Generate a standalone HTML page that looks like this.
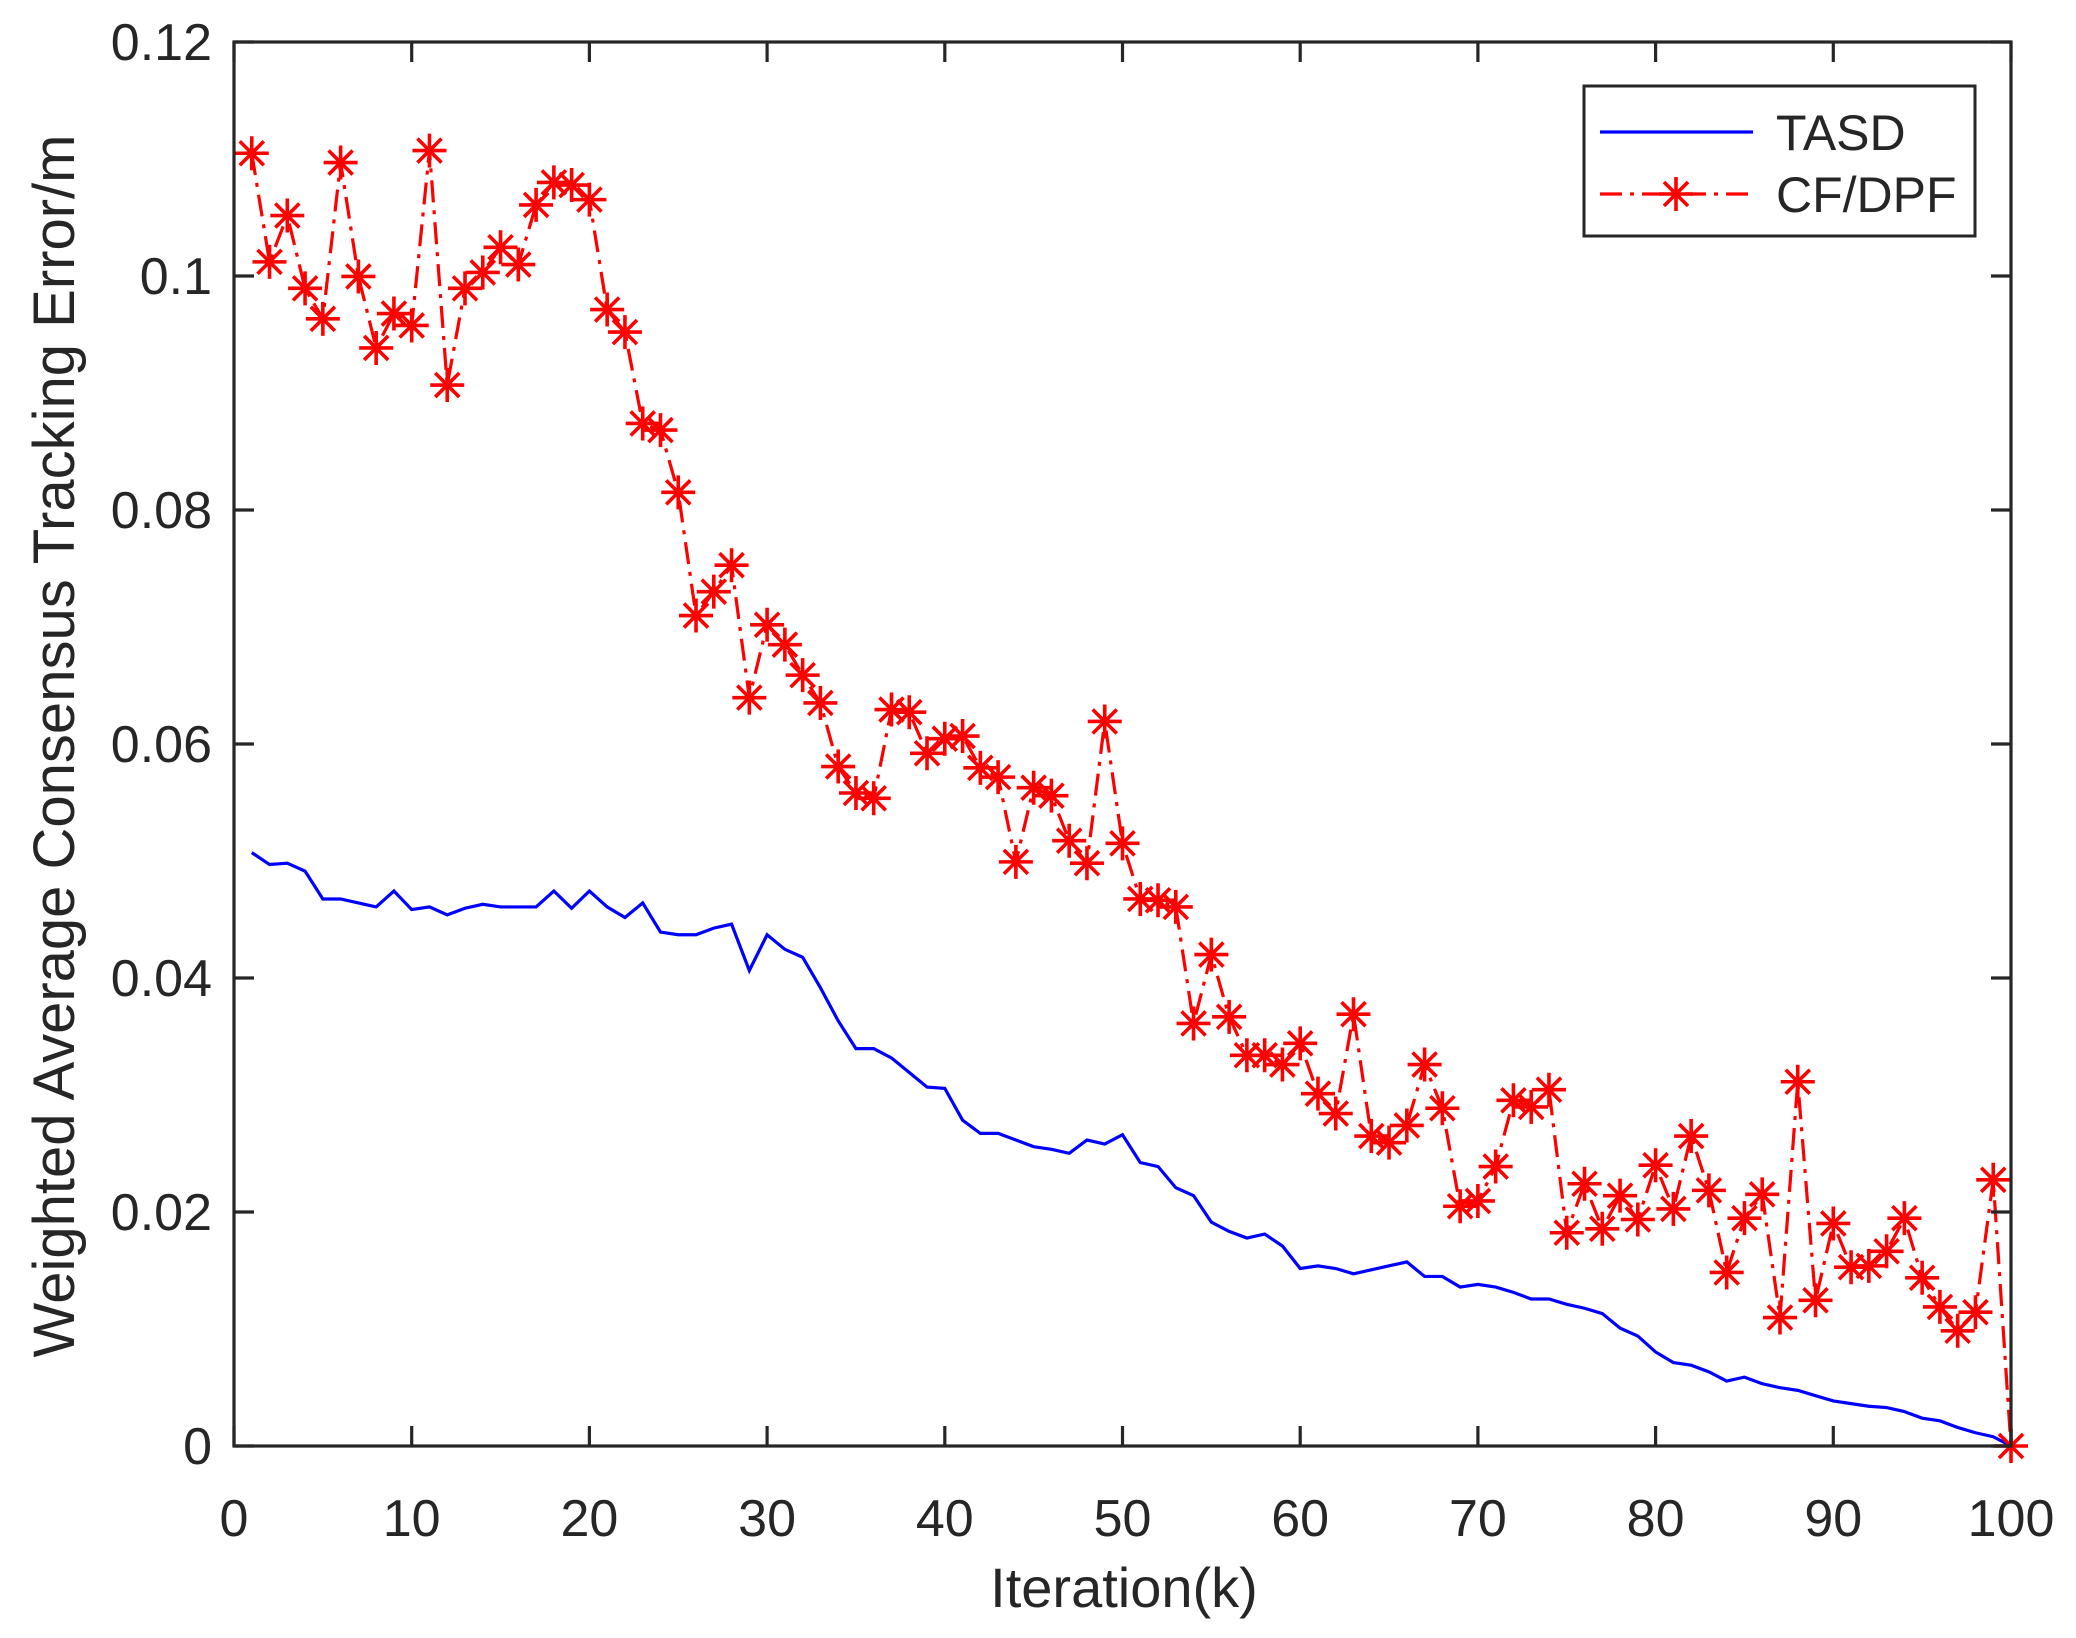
<!DOCTYPE html>
<html><head><meta charset="utf-8"><style>
html,body{margin:0;padding:0;background:#fff}
svg{display:block}
text{font-family:"Liberation Sans",sans-serif;fill:#262626}
</style></head><body>
<svg id="s" width="2076" height="1638" xmlns="http://www.w3.org/2000/svg">
<rect width="2076" height="1638" fill="#fff"/>
<g id="data"></g>
<g id="axes"></g>
<rect x="1584" y="86" width="391" height="150" fill="#fff" stroke="#262626" stroke-width="3"/>
<line x1="1600" y1="132" x2="1753" y2="132" stroke="#0000ff" stroke-width="3.2"/>
<line x1="1600" y1="194" x2="1753" y2="194" stroke="#ff0000" stroke-width="3.2" stroke-dasharray="22,8,4,8"/>
<g id="lm"></g>
<text x="1776" y="150" font-size="50">TASD</text>
<text x="1776" y="212" font-size="50">CF/DPF</text>
<text x="1124" y="1607" font-size="56" text-anchor="middle">Iteration(k)</text>
<text transform="translate(74,746) rotate(-90)" font-size="58" text-anchor="middle">Weighted Average Consensus Tracking Error/m</text>
</svg>
<script>
const NS="http://www.w3.org/2000/svg";
const L=234,R=2011,T=42,B=1446;
const X=k=>L+k*(R-L)/100, Yd=y=>T+(y-31)*(B-T)/1060, Yv=v=>B-v/0.12*(B-T);
const cf=[115,197,162,217,240,122,208,262,236,245,113,290,217,205,186,199,154,137,139,150,233,250,319,324,371,464,446,426,526,471,486,509,530,578,598,602,535,537,568,557,555,579,586,650,594,600,634,651,544,636,678,679,684,772,720,767,796,796,803,787,825,840,765,857,862,849,803,836,910,906,880,830,835,822,930,893,927,902,920,879,912,857,898,960,919,901,994,816,981,923,956,955,944,919,964,986,1004,990,890,1091];
const ta=[643,652,651,657,678,678,681,684,672,686,684,690,685,682,684,684,684,672,685,672,684,692,681,703,705,705,700,697,732,705,716,722,745,770,791,791,798,809,820,821,845,855,855,860,865,867,870,860,863,856,877,880,896,902,922,929,934,931,940,957,955,957,961,958,955,952,963,963,971,969,971,975,980,980,984,987,991,1002,1008,1020,1028,1030,1035,1042,1039,1044,1047,1049,1053,1057,1059,1061,1062,1065,1070,1072,1077,1081,1084,1091];
function el(n,a,p){const e=document.createElementNS(NS,n);for(const k in a)e.setAttribute(k,a[k]);p.appendChild(e);return e;}
const d=document.getElementById('data');
el('polyline',{points:ta.map((y,i)=>X(i+1)+','+Yd(y)).join(' '),fill:'none',stroke:'#0000ff','stroke-width':3.2},d);
el('polyline',{points:cf.map((y,i)=>X(i+1)+','+Yd(y)).join(' '),fill:'none',stroke:'#ff0000','stroke-width':3.2,'stroke-dasharray':'22,8,4,8'},d);
function star(x,y,p){const r=17,q=r*0.7071;let s=`M${x-r},${y}H${x+r}M${x},${y-r}V${y+r}M${x-q},${y-q}L${x+q},${y+q}M${x-q},${y+q}L${x+q},${y-q}`;el('path',{d:s,stroke:'#ff0000','stroke-width':3.6,fill:'none'},p);}
cf.forEach((y,i)=>star(X(i+1),Yd(y),d));
star(1676,194,document.getElementById('lm'));
const a=document.getElementById('axes');
el('rect',{x:L,y:T,width:R-L,height:B-T,fill:'none',stroke:'#262626','stroke-width':3.2},a);
for(let k=0;k<=100;k+=10){const x=X(k);
 el('line',{x1:x,y1:B,x2:x,y2:B-20,stroke:'#262626','stroke-width':3.2},a);
 el('line',{x1:x,y1:T,x2:x,y2:T+20,stroke:'#262626','stroke-width':3.2},a);
 const t=el('text',{x:x,y:1536,'font-size':52,'text-anchor':'middle'},a);t.textContent=k;}
const yl=['0','0.02','0.04','0.06','0.08','0.1','0.12'];
yl.forEach((s,i)=>{const y=Yv(i*0.02);
 el('line',{x1:L,y1:y,x2:L+20,y2:y,stroke:'#262626','stroke-width':3.2},a);
 el('line',{x1:R,y1:y,x2:R-20,y2:y,stroke:'#262626','stroke-width':3.2},a);
 const t=el('text',{x:212,y:y+18,'font-size':52,'text-anchor':'end'},a);t.textContent=s;});
</script>
</body></html>
